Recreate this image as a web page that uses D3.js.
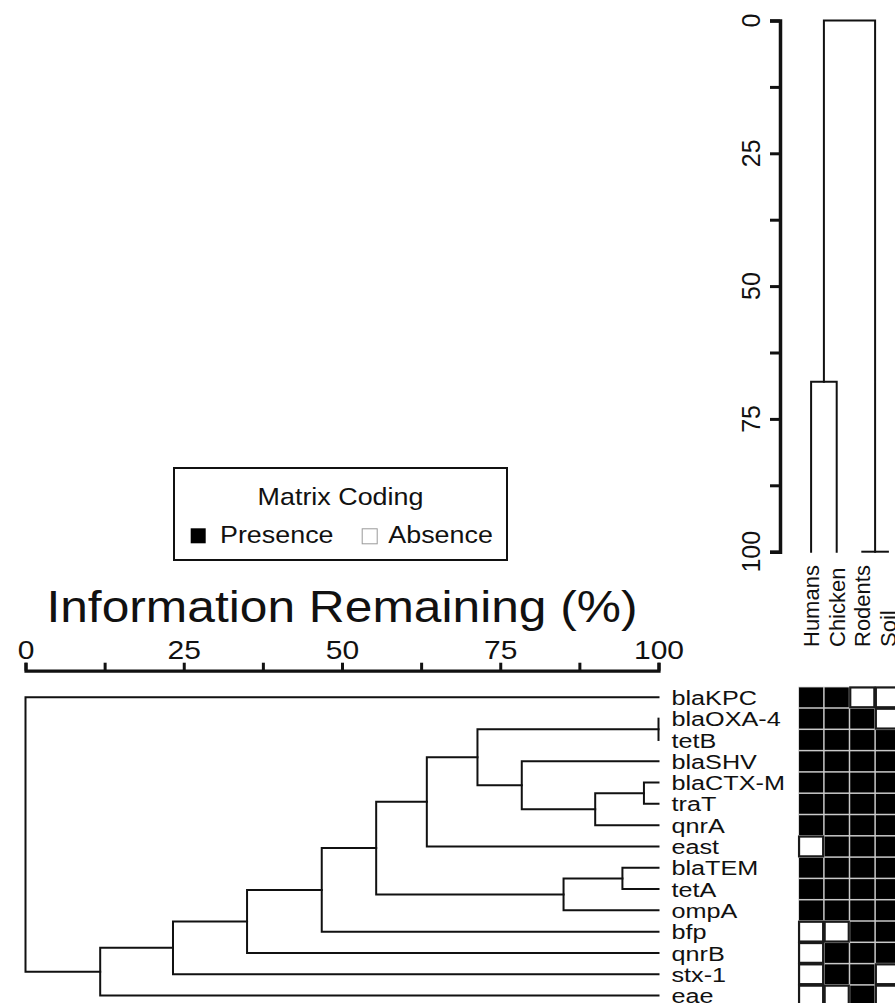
<!DOCTYPE html>
<html>
<head>
<meta charset="utf-8">
<script src="https://cdn.jsdelivr.net/npm/d3@7"></script>
<style>
  html, body { margin: 0; padding: 0; background: #fff; }
  svg { display: block; }
  text { font-family: "Liberation Sans", Arial, Helvetica, sans-serif; fill: #111; }
</style>
</head>
<body>
<script>
// ---- data ----------------------------------------------------------------
const genes = ["blaKPC", "blaOXA-4", "tetB", "blaSHV", "blaCTX-M", "traT", "qnrA",
               "east", "blaTEM", "tetA", "ompA", "bfp", "qnrB", "stx-1", "eae"];
const hosts = ["Humans", "Chicken", "Rodents", "Soil"];

// presence (1) / absence (0) per gene, columns in host order
const presence = [
  [1, 1, 0, 0],
  [1, 1, 1, 0],
  [1, 1, 1, 1],
  [1, 1, 1, 1],
  [1, 1, 1, 1],
  [1, 1, 1, 1],
  [1, 1, 1, 1],
  [0, 1, 1, 1],
  [1, 1, 1, 1],
  [1, 1, 1, 1],
  [1, 1, 1, 1],
  [0, 0, 1, 1],
  [0, 1, 1, 1],
  [0, 1, 1, 0],
  [0, 0, 1, 0]
];

// gene clustering: [child, child, information remaining (%)]
// a child is a gene name or the index of an earlier merge
const geneMerges = [
  ["blaOXA-4", "tetB", 100],
  ["blaCTX-M", "traT", 97.7],
  [1, "qnrA", 90.0],
  ["blaSHV", 2, 78.4],
  [0, 3, 71.4],
  [4, "east", 63.4],
  ["blaTEM", "tetA", 94.3],
  [6, "ompA", 85.0],
  [5, 7, 55.4],
  [8, "bfp", 46.8],
  [9, "qnrB", 35.0],
  [10, "stx-1", 23.3],
  [11, "eae", 11.8],
  ["blaKPC", 12, 0]
];

// host clustering
const hostMerges = [
  ["Humans", "Chicken", 68],
  ["Rodents", "Soil", 100],
  [0, 1, 0]
];

const axisTicks = [0, 12.5, 25, 37.5, 50, 62.5, 75, 87.5, 100];
const axisLabels = [0, 25, 50, 75, 100];

// ---- layout --------------------------------------------------------------
const W = 895, H = 1003;
const INK = "#111";

const svg = d3.select("body").append("svg")
  .attr("width", W).attr("height", H)
  .attr("viewBox", `0 0 ${W} ${H}`);

// row (gene) and column (host) bands shared by the heatmap and both trees
const yRow = d3.scaleBand().domain(genes).range([686.7, 686.7 + 21.3 * genes.length]);
const xCol = d3.scaleBand().domain(hosts).range([798.3, 798.3 + 25.6 * hosts.length]);

// information-remaining scales
const xInfo = d3.scaleLinear().domain([0, 100]).range([25.5, 658.5]);
const yInfo = d3.scaleLinear().domain([0, 100]).range([20.5, 551.7]);

function stretchedText(g, str, x, y, size, sx, anchor) {
  return g.append("text")
    .attr("transform", `translate(${x},${y}) scale(${sx},1)`)
    .attr("text-anchor", anchor || "start")
    .style("font-size", size + "px")
    .text(str);
}

// ---- gene dendrogram (left, horizontal) ----------------------------------
function layoutTree(merges, leafPos) {
  const nodes = merges.map(() => null);
  const pos = c => typeof c === "string" ? { p: leafPos(c), h: 100 } : nodes[c];
  merges.forEach((m, i) => {
    const a = pos(m[0]), b = pos(m[1]);
    nodes[i] = { p: (a.p + b.p) / 2, h: m[2], a, b };
  });
  return nodes;
}

const geneNodes = layoutTree(geneMerges, g => yRow(g) + yRow.bandwidth() / 2);
const treeG = svg.append("g")
  .attr("fill", "none").attr("stroke", INK).attr("stroke-width", 2)
  .attr("stroke-linecap", "square");

geneNodes.forEach(n => {
  const x = xInfo(n.h);
  treeG.append("path").attr("d",
    `M${xInfo(n.a.h)},${n.a.p}H${x}V${n.b.p}H${xInfo(n.b.h)}`);
});

// gene labels
const rowLabels = svg.append("g");
genes.forEach(g => {
  stretchedText(rowLabels, g, 671.5, yRow(g) + yRow.bandwidth() / 2, 21, 1.2)
    .attr("dy", "0.36em");
});

// ---- bottom information axis ---------------------------------------------
const xAxis = d3.axisTop(xInfo)
  .tickValues(axisTicks)
  .tickSize(8)
  .tickSizeOuter(8)
  .tickPadding(4)
  .tickFormat(d => axisLabels.includes(d) ? d : "");
const xAxisG = svg.append("g").attr("transform", "translate(0,670.7)").call(xAxis);
xAxisG.select(".domain").attr("stroke", INK).attr("stroke-width", 3.2);
xAxisG.selectAll(".tick line").attr("stroke", INK).attr("stroke-width", 3);
xAxisG.selectAll(".tick text")
  .attr("fill", INK)
  .style("font-size", "25px")
  .attr("font-family", null)
  .attr("transform", "scale(1.2,1)");

stretchedText(svg, "Information Remaining (%)", xInfo(50), 621.7, 44, 1.13, "middle");

// ---- host dendrogram (top, vertical) -------------------------------------
const hostNodes = layoutTree(hostMerges, h => xCol(h) + xCol.bandwidth() / 2);
const hostG = svg.append("g")
  .attr("fill", "none").attr("stroke", INK).attr("stroke-width", 2)
  .attr("stroke-linecap", "square");
hostNodes.forEach(n => {
  const y = yInfo(n.h);
  hostG.append("path").attr("d",
    `M${n.a.p},${yInfo(n.a.h)}V${y}H${n.b.p}V${yInfo(n.b.h)}`);
});

// left axis of the host tree
const yAxis = d3.axisLeft(yInfo)
  .tickValues(axisTicks)
  .tickSize(10)
  .tickSizeOuter(10)
  .tickFormat("");
const yAxisG = svg.append("g").attr("transform", "translate(780,0)").call(yAxis);
yAxisG.select(".domain").attr("stroke", INK).attr("stroke-width", 3.5);
yAxisG.selectAll(".tick line").attr("stroke", INK).attr("stroke-width", 3);
axisLabels.forEach(v => {
  svg.append("text")
    .attr("transform", `translate(760,${yInfo(v)}) rotate(-90)`)
    .attr("text-anchor", "middle")
    .style("font-size", "25px")
    .text(v);
});

// host labels
hosts.forEach(h => {
  svg.append("text")
    .attr("transform", `translate(${xCol(h) + xCol.bandwidth() / 2},647) rotate(-90)`)
    .attr("dy", "0.36em")
    .style("font-size", "22px")
    .text(h);
});

// ---- presence / absence matrix -------------------------------------------
const cellG = svg.append("g");
cellG.append("rect")
  .attr("x", xCol.range()[0]).attr("y", yRow.range()[0])
  .attr("width", xCol.range()[1] - xCol.range()[0])
  .attr("height", yRow.range()[1] - yRow.range()[0])
  .attr("fill", "#c9c9c9");
genes.forEach((g, i) => {
  hosts.forEach((h, j) => {
    const on = presence[i][j] === 1;
    cellG.append("rect")
      .attr("x", xCol(h) + 0.75)
      .attr("y", yRow(g) + 0.75)
      .attr("width", xCol.bandwidth() - 1.5)
      .attr("height", yRow.bandwidth() - 1.5)
      .attr("fill", on ? "#000" : "#fff")
      .attr("stroke", on ? "#000" : "#1a1a1a")
      .attr("stroke-width", on ? 0 : 2.2);
  });
});

// ---- legend ---------------------------------------------------------------
const leg = svg.append("g");
leg.append("rect")
  .attr("x", 174).attr("y", 468).attr("width", 333).attr("height", 92)
  .attr("fill", "#fff").attr("stroke", INK).attr("stroke-width", 2);
stretchedText(leg, "Matrix Coding", 340.5, 505, 24, 1.12, "middle");
leg.append("rect").attr("x", 190.7).attr("y", 528.3).attr("width", 15).attr("height", 15)
  .attr("fill", "#000");
stretchedText(leg, "Presence", 220, 543.3, 24, 1.12);
leg.append("rect").attr("x", 362.2).attr("y", 528.8).attr("width", 15).attr("height", 15)
  .attr("fill", "#fff").attr("stroke", "#9a9a9a").attr("stroke-width", 1);
stretchedText(leg, "Absence", 388.3, 543.3, 24, 1.12);
</script>
</body>
</html>
